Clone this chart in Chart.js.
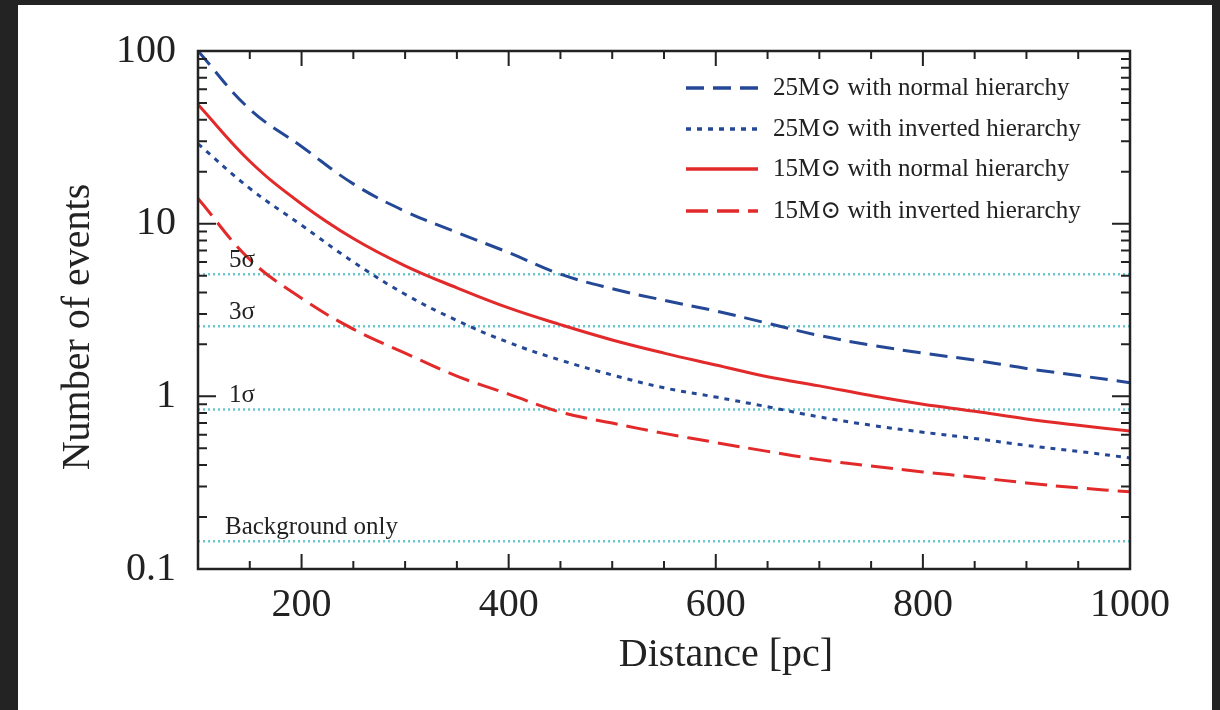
<!DOCTYPE html>
<html>
<head>
<meta charset="utf-8">
<script src="https://cdn.jsdelivr.net/npm/chart.js@4/dist/chart.umd.min.js"></script>
<style>
  body { margin: 0; background: #232323; width: 1220px; height: 710px; overflow: hidden; }
  #box { position: absolute; left: 18px; top: 5px; width: 1194px; height: 705px; background: #fff; }
</style>
</head>
<body>
<div id="box"><canvas id="events" width="1194" height="705"></canvas></div>
<script>
// distance in pc
const distances = [100, 150, 200, 250, 300, 350, 400, 450, 500, 550, 600, 650, 700, 750, 800, 850, 900, 950, 1000];
// number of events
const m25Normal   = [100, 46, 28, 17, 11.8, 8.9, 6.8, 5.1, 4.2, 3.6, 3.12, 2.65, 2.25, 1.98, 1.78, 1.62, 1.45, 1.32, 1.2];
const m25Inverted = [29, 16, 9.8, 6.0, 3.9, 2.75, 2.05, 1.62, 1.33, 1.12, 0.99, 0.87, 0.76, 0.68, 0.62, 0.57, 0.52, 0.48, 0.44];
const m15Normal   = [49, 23, 13, 8.2, 5.7, 4.25, 3.25, 2.6, 2.12, 1.78, 1.52, 1.3, 1.15, 1.01, 0.9, 0.82, 0.74, 0.68, 0.63];
const m15Inverted = [14, 6.2, 3.7, 2.45, 1.78, 1.31, 1.03, 0.81, 0.7, 0.61, 0.54, 0.48, 0.43, 0.395, 0.365, 0.34, 0.315, 0.295, 0.28];
const seriesLabels = [
  '25M\u2299 with normal hierarchy',
  '25M\u2299 with inverted hierarchy',
  '15M\u2299 with normal hierarchy',
  '15M\u2299 with inverted hierarchy'
];
const sigmaLevels = [5.1, 2.55, 0.84, 0.145];
const sigmaLabels = ['5\u03c3', '3\u03c3', '1\u03c3', 'Background only'];
const xTickLabels = [200, 400, 600, 800, 1000];
const yTickLabels = [0.1, 1, 10, 100];
const xTickMarks = [150, 200, 250, 300, 350, 400, 450, 500, 550, 600, 650, 700, 750, 800, 850, 900, 950];
const yTickMarks = [0.2, 0.3, 0.4, 0.5, 0.6, 0.7, 0.8, 0.9, 1, 2, 3, 4, 5, 6, 7, 8, 9, 10, 20, 30, 40, 50, 60, 70, 80, 90];
const xTitle = 'Distance [pc]';
const yTitle = 'Number of events';

const BLUE = 'rgb(36, 72, 150)';
const RED = 'rgb(226, 42, 42)';
const CYAN = 'rgb(105, 200, 205)';
const INK = '#222';
const SERIF = '"Liberation Serif", "DejaVu Serif", serif';

const pts = ys => distances.map((d, i) => ({x: d, y: ys[i]}));

const curves = [
  {label: seriesLabels[0], data: pts(m25Normal), borderColor: BLUE, borderDash: [18, 9]},
  {label: seriesLabels[1], data: pts(m25Inverted), borderColor: BLUE, borderDash: [5, 6]},
  {label: seriesLabels[2], data: pts(m15Normal), borderColor: RED, borderDash: []},
  {label: seriesLabels[3], data: pts(m15Inverted), borderColor: RED, borderDash: [22, 9]}
].map(c => Object.assign(c, {borderWidth: 3, pointRadius: 0, fill: false, tension: 0.4}));

const levels = sigmaLevels.map((v, i) => ({
  label: sigmaLabels[i],
  data: [{x: 100, y: v}, {x: 1000, y: v}],
  borderColor: CYAN, borderWidth: 2.5, borderDash: [2, 3], pointRadius: 0, fill: false
}));

const decorations = {
  id: 'decorations',
  afterDatasetsDraw(chart) {
    const {ctx, chartArea: a, scales: {x, y}} = chart;
    ctx.save();
    // inward ticks
    ctx.strokeStyle = INK;
    ctx.lineWidth = 2;
    ctx.beginPath();
    xTickMarks.forEach(v => {
      const px = x.getPixelForValue(v);
      const len = v % 200 === 0 ? 15 : 8;
      ctx.moveTo(px, a.bottom); ctx.lineTo(px, a.bottom - len);
      ctx.moveTo(px, a.top); ctx.lineTo(px, a.top + len);
    });
    yTickMarks.forEach(v => {
      const py = y.getPixelForValue(v);
      const len = (v === 1 || v === 10) ? 18 : 9;
      ctx.moveTo(a.left, py); ctx.lineTo(a.left + len, py);
      ctx.moveTo(a.right, py); ctx.lineTo(a.right - len, py);
    });
    ctx.stroke();
    // frame
    ctx.lineWidth = 2.5;
    ctx.strokeRect(a.left, a.top, a.right - a.left, a.bottom - a.top);

    // axis titles
    ctx.fillStyle = INK;
    ctx.font = '40px ' + SERIF;
    ctx.textAlign = 'center';
    ctx.textBaseline = 'middle';
    ctx.fillText(xTitle, 708, 650);
    ctx.save();
    ctx.translate(60, 322);
    ctx.rotate(-Math.PI / 2);
    ctx.fillText(yTitle, 0, 0);
    ctx.restore();

    // sigma labels
    ctx.font = '25px ' + SERIF;
    ctx.textBaseline = 'alphabetic';
    ctx.textAlign = 'left';
    sigmaLevels.forEach((v, i) => {
      const py = y.getPixelForValue(v);
      const px = i === 3 ? a.left + 27 : a.left + 31;
      ctx.fillText(sigmaLabels[i], px, py - 7);
    });

    // legend
    const rows = [83, 124, 164, 206];
    chart.data.datasets.slice(0, 4).forEach((ds, i) => {
      ctx.strokeStyle = ds.borderColor;
      ctx.lineWidth = 3.5;
      ctx.setLineDash(ds.borderDash);
      ctx.beginPath();
      ctx.moveTo(668, rows[i]); ctx.lineTo(740, rows[i]);
      ctx.stroke();
      ctx.setLineDash([]);
      ctx.fillStyle = INK;
      ctx.textBaseline = 'middle';
      ctx.fillText(ds.label, 755, rows[i]);
    });
    ctx.restore();
  }
};

new Chart(document.getElementById('events'), {
  type: 'line',
  data: {datasets: [...curves, ...levels]},
  options: {
    responsive: false,
    animation: false,
    layout: {padding: {left: 30, right: 82, top: 46, bottom: 21}},
    plugins: {legend: {display: false}, tooltip: {enabled: false}},
    scales: {
      x: {
        type: 'linear', min: 100, max: 1000,
        afterBuildTicks: s => { s.ticks = xTickLabels.map(v => ({value: v})); },
        afterFit: s => { s.height = 120; },
        grid: {display: false, drawTicks: false},
        border: {display: false},
        ticks: {color: INK, padding: 12, maxRotation: 0, font: {family: SERIF, size: 40}, callback: v => String(v)}
      },
      y: {
        type: 'logarithmic', min: 0.1, max: 100,
        afterBuildTicks: s => { s.ticks = yTickLabels.map(v => ({value: v})); },
        afterFit: s => { s.width = 150; },
        grid: {display: false, drawTicks: false},
        border: {display: false},
        ticks: {color: INK, padding: 22, font: {family: SERIF, size: 40}, callback: v => String(v)}
      }
    }
  },
  plugins: [decorations]
});
</script>
</body>
</html>
